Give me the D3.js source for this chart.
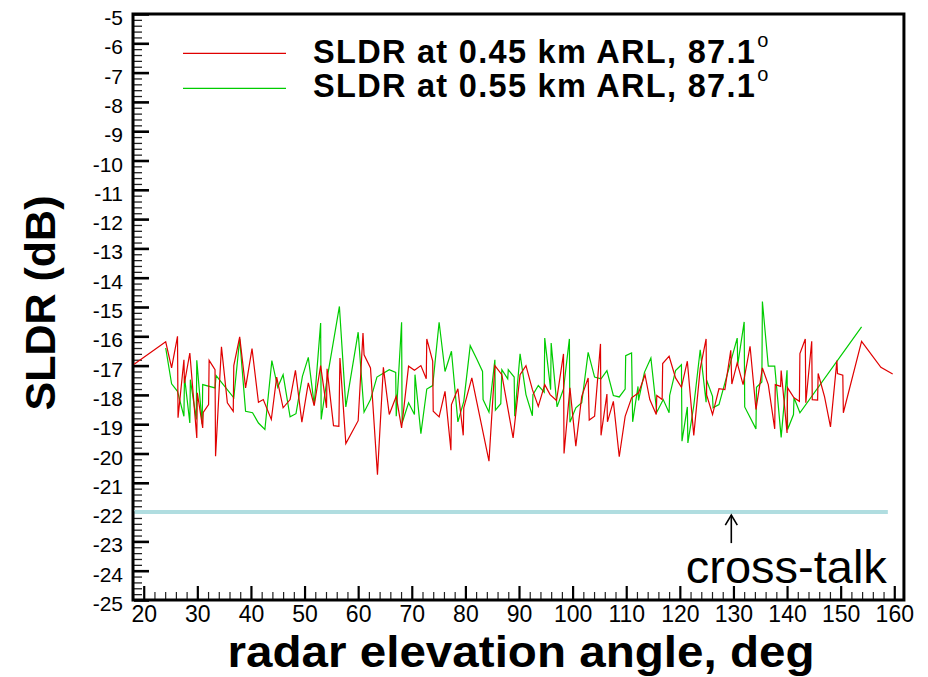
<!DOCTYPE html>
<html>
<head>
<meta charset="utf-8">
<script src="https://cdn.jsdelivr.net/npm/d3@7"></script>
<style>
  html, body { margin: 0; padding: 0; background: #fff; }
  svg { display: block; font-family: "Liberation Sans", Arial, sans-serif; }
</style>
</head>
<body>
<svg id="chart" width="928" height="677"></svg>
<script>
// ---- data ----
const seriesNames = ["SLDR at 0.45 km ARL, 87.1", "SLDR at 0.55 km ARL, 87.1"];
const xTickValues = [20, 30, 40, 50, 60, 70, 80, 90, 100, 110, 120, 130, 140, 150, 160];
const yTickValues = [-5, -6, -7, -8, -9, -10, -11, -12, -13, -14, -15, -16, -17, -18, -19, -20, -21, -22, -23, -24, -25];
const crossTalkLevel = -22;
const crossTalkEnd = 158.8;
const crossTalkArrowAt = 129.6;
const crossTalkLabel = "cross-talk";

const redAngle = [18.2, 24.1, 25.2, 26.3, 26.4, 27.5, 27.6, 28.6, 29.9, 30.0, 31.0, 31.1, 32.1, 32.2, 33.3, 33.4, 34.5, 35.6, 36.7, 36.8,
  37.9, 39.0, 40.2, 41.4, 42.3, 43.8, 44.8, 46.0, 47.3, 48.3, 49.5, 50.7, 51.8, 53.0, 54.1, 54.2, 55.4, 56.4, 56.6, 57.7,
  60.0, 60.9, 61.1, 62.3, 63.6, 64.7, 65.8, 67.1, 68.1, 69.4, 70.5, 71.7, 72.7, 72.8, 73.9, 74.0, 75.1, 76.2, 77.3, 77.4,
  78.6, 79.6, 79.7, 81.2, 82.1, 84.4, 85.5, 86.8, 88.9, 90.2, 91.3, 92.5, 93.6, 94.8, 95.8, 97.0, 98.3, 98.4, 99.5, 100.6,
  101.7, 102.9, 103.1, 104.1, 105.2, 105.3, 106.4, 106.5, 107.6, 108.7, 109.8, 111.0, 112.3, 113.5, 114.4, 115.6, 115.7, 116.7, 116.8, 118.0,
  119.2, 120.3, 121.4, 122.6, 123.8, 124.9, 125.0, 126.1, 127.3, 128.4, 129.5, 129.7, 130.7, 131.8, 133.1, 134.2, 135.4, 136.5, 137.7, 137.8,
  138.8, 138.9, 140.0, 140.1, 141.3, 142.3, 142.4, 143.4, 143.5, 144.6, 144.7, 145.7, 145.8, 147.0, 148.1, 149.3, 149.4, 150.4, 150.5, 153.9,
  157.5, 159.7];
const redSLDR = [-16.95, -16.19, -17.08, -16.0, -18.78, -16.8, -17.6, -16.57, -19.47, -17.93, -19.13, -18.6, -18.33, -16.82, -17.14, -20.09, -16.36, -18.27, -18.56, -17.0,
  -16.02, -17.76, -16.42, -18.25, -18.16, -18.84, -17.39, -18.44, -18.16, -17.16, -18.93, -17.59, -18.37, -17.0, -18.44, -17.11, -19.05, -19.07, -16.74, -19.66,
  -18.88, -15.89, -16.63, -17.08, -20.72, -17.06, -18.67, -18.05, -19.13, -17.02, -17.16, -17.0, -17.45, -16.09, -16.85, -18.56, -18.75, -17.88, -19.89, -18.33,
  -17.79, -19.38, -18.44, -17.42, -18.22, -20.26, -17.0, -17.31, -19.47, -17.31, -17.0, -17.82, -18.39, -17.65, -17.99, -18.19, -16.6, -20.0, -17.76, -19.75,
  -18.05, -17.42, -18.86, -18.73, -16.26, -19.38, -17.97, -18.92, -18.22, -20.11, -18.73, -18.1, -17.93, -17.31, -18.16, -18.67, -18.02, -18.16, -16.93, -16.68,
  -17.42, -17.74, -16.85, -19.38, -17.1, -16.09, -18.0, -18.67, -17.79, -17.82, -16.48, -17.63, -16.91, -17.65, -16.34, -18.5, -17.08, -17.65, -19.16, -17.65,
  -17.71, -17.17, -19.3, -17.76, -18.1, -18.22, -16.59, -16.09, -18.27, -16.17, -18.16, -18.18, -17.27, -18.07, -19.09, -16.83, -17.27, -17.33, -18.61, -16.17,
  -17.06, -17.29];

const greenAngle = [24.1, 25.2, 26.3, 27.5, 27.6, 28.6, 28.7, 29.8, 29.9, 30.9, 31.0, 33.3, 33.5, 36.8, 37.9, 39.0, 40.3, 41.4, 42.6, 43.9,
  45.0, 46.0, 47.3, 48.4, 49.6, 50.7, 51.8, 53.0, 53.1, 54.2, 56.5, 57.7, 60.0, 61.1, 62.3, 63.5, 65.8, 67.0, 67.1, 68.1,
  68.2, 69.4, 70.5, 70.6, 71.7, 72.8, 73.9, 75.1, 76.2, 77.4, 78.6, 79.7, 80.9, 82.1, 83.2, 83.3, 84.4, 85.5, 85.6, 86.6,
  86.8, 87.9, 88.0, 89.1, 89.2, 90.2, 91.3, 92.5, 92.6, 93.6, 94.7, 94.8, 95.9, 96.0, 97.1, 98.3, 99.4, 99.5, 100.6, 101.7,
  102.9, 104.1, 105.3, 106.4, 107.6, 108.7, 109.8, 109.9, 111.0, 111.2, 112.2, 112.3, 113.4, 114.6, 115.7, 116.9, 118.0, 118.1, 119.2, 120.3,
  120.4, 121.4, 121.5, 122.6, 123.8, 124.9, 125.0, 126.1, 126.2, 127.3, 130.7, 130.8, 132.0, 132.1, 134.2, 134.3, 135.3, 135.4, 136.5, 137.7,
  138.9, 140.0, 140.1, 141.2, 141.3, 142.4, 153.9];
const greenSLDR = [-16.4, -17.62, -17.88, -18.73, -17.37, -18.96, -17.48, -18.84, -16.82, -19.0, -17.65, -17.76, -17.34, -18.1, -16.09, -18.56, -18.61, -18.96, -19.18, -16.83,
  -17.74, -17.31, -18.75, -18.64, -17.37, -16.72, -18.33, -15.55, -18.84, -17.45, -14.98, -18.41, -15.86, -18.59, -18.16, -17.39, -17.14, -17.23, -18.73, -15.52,
  -18.96, -18.27, -18.67, -17.31, -19.32, -17.8, -17.68, -15.52, -17.2, -16.51, -18.92, -18.22, -16.32, -16.77, -17.2, -18.16, -18.59, -16.8, -18.52, -18.3,
  -17.14, -17.45, -17.14, -17.39, -18.73, -16.6, -17.99, -18.71, -17.99, -17.68, -17.91, -16.06, -17.82, -16.23, -18.41, -17.8, -16.09, -18.93, -18.44, -18.27,
  -16.55, -17.39, -17.45, -17.17, -18.02, -18.07, -17.8, -16.66, -16.57, -18.92, -17.71, -18.19, -17.23, -16.74, -18.59, -18.16, -18.61, -18.02, -17.17, -16.97,
  -19.58, -18.41, -19.64, -18.37, -16.46, -18.25, -17.5, -18.05, -18.44, -18.33, -16.06, -16.97, -15.51, -18.41, -19.16, -17.74, -17.56, -14.81, -17.02, -17.02,
  -19.45, -17.16, -19.18, -18.67, -18.1, -18.61, -15.68];

const seriesColors = ["#e00000", "#00cc00"];

// ---- chart ----
const svg = d3.select("#chart");
const x = d3.scaleLinear().domain([18, 162]).range([133, 905]);
const y = d3.scaleLinear().domain([-25, -5]).range([600, 14]);
const plainFormat = d => String(d);  // hyphen-minus like the reference

// minor ticks
const xMinor = d3.range(18, 162, 2).filter(v => v % 10 !== 0);
const yMinor = d3.range(-25, -5.0001, 0.2).map(v => +v.toFixed(1)).filter(v => Math.abs(v - Math.round(v)) > 0.01);

const gxMinor = svg.append("g").attr("transform", `translate(0,599)`)
  .call(d3.axisBottom(x).tickValues(xMinor).tickSize(-7).tickFormat(""));
gxMinor.select(".domain").remove();
gxMinor.selectAll("text").remove();
gxMinor.selectAll("line").attr("stroke", "#222").attr("stroke-width", 1.2);

const gyMinor = svg.append("g").attr("transform", `translate(134,0)`)
  .call(d3.axisLeft(y).tickValues(yMinor).tickSize(-8).tickFormat(""));
gyMinor.select(".domain").remove();
gyMinor.selectAll("text").remove();
gyMinor.selectAll("line").attr("stroke", "#222").attr("stroke-width", 1.3);

// major ticks
const gx = svg.append("g").attr("transform", `translate(0,599)`)
  .call(d3.axisBottom(x).tickValues(xTickValues).tickSize(-13).tickPadding(0).tickFormat(plainFormat));
gx.select(".domain").remove();
gx.selectAll("line").attr("stroke", "#000").attr("stroke-width", 2.2);
gx.selectAll("text").attr("y", 23).attr("dy", 0)
  .attr("font-size", 23).attr("fill", "#000").attr("font-family", "Liberation Sans, Arial, sans-serif");

const gy = svg.append("g").attr("transform", `translate(134,0)`)
  .call(d3.axisLeft(y).tickValues(yTickValues).tickSize(-15).tickPadding(11).tickFormat(plainFormat));
gy.select(".domain").remove();
gy.selectAll("line").attr("stroke", "#000").attr("stroke-width", 2.6);
gy.selectAll("text").attr("dy", 10.5)
  .attr("font-size", 21).attr("fill", "#000").attr("font-family", "Liberation Sans, Arial, sans-serif");

// frame
svg.append("rect").attr("x", x(18)).attr("y", y(-5)).attr("width", x(161.8) - x(18)).attr("height", y(-25) - y(-5))
  .attr("fill", "none").attr("stroke", "#000").attr("stroke-width", 3);

// cross-talk line
svg.append("line")
  .attr("x1", x(18) + 1.5).attr("x2", x(crossTalkEnd))
  .attr("y1", y(crossTalkLevel)).attr("y2", y(crossTalkLevel))
  .attr("stroke", "#b0dde0").attr("stroke-width", 4);

// arrow
const ax = x(crossTalkArrowAt), ay = y(crossTalkLevel) + 3;
svg.append("line").attr("x1", ax).attr("x2", ax).attr("y1", ay).attr("y2", ay + 28)
  .attr("stroke", "#000").attr("stroke-width", 1.6);
svg.append("path").attr("d", `M${ax - 6},${ay + 10} L${ax},${ay} L${ax + 6},${ay + 10}`)
  .attr("fill", "none").attr("stroke", "#000").attr("stroke-width", 1.6);
svg.append("text").attr("x", x(crossTalkEnd) - 1).attr("y", 583)
  .attr("text-anchor", "end").attr("font-size", 47).attr("fill", "#000").text(crossTalkLabel);

// data lines
const line = d3.line().x(d => x(d[0])).y(d => y(d[1]));
const redData = redAngle.map((a, i) => [a, redSLDR[i]]);
const greenData = greenAngle.map((a, i) => [a, greenSLDR[i]]);
svg.append("path").datum(greenData).attr("d", line)
  .attr("fill", "none").attr("stroke", seriesColors[1]).attr("stroke-width", 1.2);
svg.append("path").datum(redData).attr("d", line)
  .attr("fill", "none").attr("stroke", seriesColors[0]).attr("stroke-width", 1.2);

// legend
seriesNames.forEach((name, i) => {
  const ly = 53.3 + i * 35;
  svg.append("line").attr("x1", 183).attr("x2", 286).attr("y1", ly).attr("y2", ly)
    .attr("stroke", seriesColors[i]).attr("stroke-width", 1.2);
  const t = svg.append("text").attr("x", 313).attr("y", 62.7 + i * 34)
    .attr("font-size", 32.5).attr("font-weight", "bold").attr("letter-spacing", 1.3).attr("fill", "#000");
  t.append("tspan").text(name);
  t.append("tspan").attr("font-size", 20).attr("font-weight", "normal").attr("dy", -16).attr("dx", 1).text("o");
});

// axis titles
svg.append("text").attr("x", 521).attr("y", 667).attr("text-anchor", "middle")
  .attr("font-size", 44).attr("font-weight", "bold").attr("fill", "#000")
  .attr("textLength", 587).attr("lengthAdjust", "spacingAndGlyphs")
  .text("radar elevation angle, deg");
svg.append("text").attr("transform", "translate(55,303) rotate(-90)").attr("text-anchor", "middle")
  .attr("font-size", 43).attr("font-weight", "bold").attr("fill", "#000")
  .text("SLDR (dB)");
</script>
</body>
</html>
